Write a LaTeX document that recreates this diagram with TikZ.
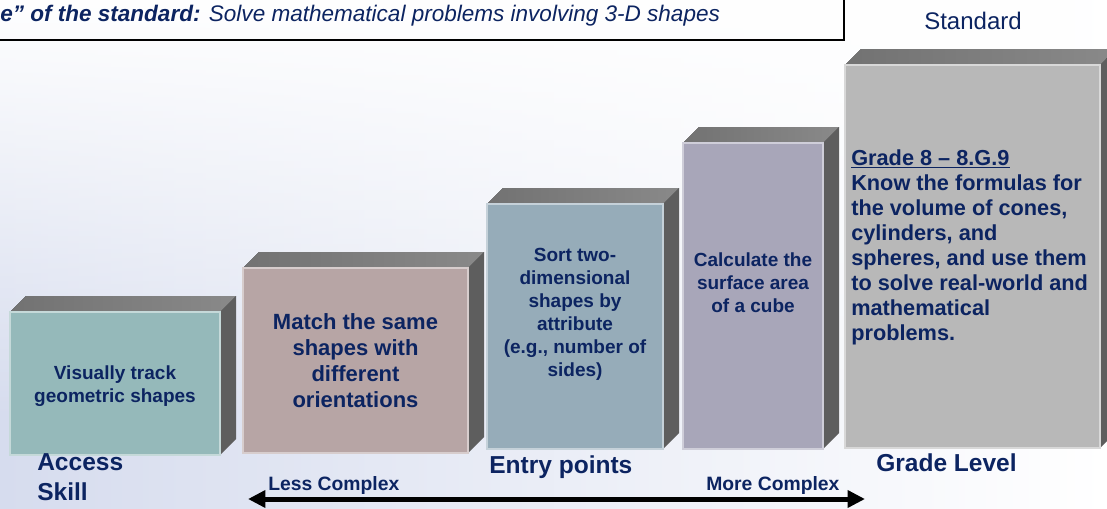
\documentclass[tikz,border=0pt]{standalone}
\usepackage{fontspec}
\setmainfont{Liberation Sans}
\usetikzlibrary{arrows.meta,fadings}
\definecolor{navy}{RGB}{12,36,97}
\definecolor{bgblue}{RGB}{214,220,238}
\definecolor{topgray}{RGB}{124,124,124}
\definecolor{sidegray}{RGB}{94,94,94}
\definecolor{cteal}{RGB}{149,185,186}
\definecolor{cmauve}{RGB}{183,165,165}
\definecolor{csteel}{RGB}{150,172,185}
\definecolor{clav}{RGB}{168,166,185}
\definecolor{cgray}{RGB}{184,184,184}
\newcommand{\blockbox}[5]{%
  \fill[topface] (#1,#2) -- (#1+16,#2-16) -- (#3+16,#2-16) -- (#3,#2) -- cycle;
  \fill[sideface] (#3,#2) -- (#3+16,#2-16) -- (#3+16,#4-16) -- (#3,#4) -- cycle;
  \filldraw[fill=#5, draw=#5!55!white, line width=0.8pt] (#1,#2) rectangle (#3,#4);
}
\begin{document}
\begin{tikzpicture}[x=0.75pt,y=-0.75pt,
  topface/.style={left color=topgray!92!black, right color=topgray!90!white},
  sideface/.style={fill=sidegray},
  boxtext/.style={text=navy, font=\bfseries\fontsize{14.25}{17.25}\selectfont, align=center, inner sep=0pt},
  biglabel/.style={text=navy, font=\bfseries\fontsize{18.4}{22.5}\selectfont, inner sep=0pt},
  cplxlabel/.style={text=navy, font=\bfseries\fontsize{14.5}{17}\selectfont, inner sep=0pt},
  bigarrow/.style={line width=3.75pt, {Triangle[length=13pt,width=12.5pt]}-{Triangle[length=13pt,width=12.5pt]}}
]
\useasboundingbox (0,0) rectangle (1107,508);
\begin{scope}
\clip (0,0) rectangle (1107,508);
\shade[left color=bgblue, right color=white] (0,0) rectangle (1107,508);
\fill[white, path fading=south] (0,-2) rectangle (1107,420);

% title box
\draw[line width=1.1pt] (-10,-10) rectangle (844,40);
\node[anchor=base west, inner sep=0pt, text=navy, font=\itshape\fontsize{16.9}{20}\selectfont] (title) at (0,21) {\textbf{e” of the standard:} Solve mathematical problems involving 3-D shapes};
\node[anchor=base, inner sep=0pt, text=navy, font=\fontsize{18}{22}\selectfont] (standard) at (973,29) {Standard};

% blocks
\blockbox{10}{312}{220}{455}{cteal}
\blockbox{243}{268}{468}{453}{cmauve}
\blockbox{487}{204}{663}{449}{csteel}
\blockbox{683}{143}{823}{449}{clav}
\blockbox{845}{65}{1100}{448}{cgray}

% block texts
\node[boxtext] (t1) at (115,386.5) {Visually track\\geometric shapes};
\node[boxtext, font=\bfseries\fontsize{16.5}{19.5}\selectfont] (t2) at (355.5,361) {Match the same\\shapes with\\different\\orientations};
\node[boxtext] (t3) at (575,314.7) {Sort two-\\dimensional\\shapes by\\attribute\\(e.g., number of\\sides)};
\node[boxtext] (t4) at (753,283) {Calculate the\\surface area\\of a cube};
\node[boxtext, align=left, anchor=north west, font=\bfseries\fontsize{16.3}{18.75}\selectfont] (t5) at (851,149.5) {\underline{Grade 8 – 8.G.9}\\Know the formulas for\\the volume of cones,\\cylinders, and\\spheres, and use them\\to solve real-world and\\mathematical\\problems.};

% bottom labels
\node[biglabel, anchor=north west, align=left] (access) at (37,453.5) {Access\\Skill};
\node[biglabel, anchor=base west] (entry) at (489,473) {Entry points};
\node[biglabel, anchor=base west] (grade) at (876,471) {Grade Level};
\node[cplxlabel, anchor=base west] (less) at (268,490) {Less Complex};
\node[cplxlabel, anchor=base west] (more) at (706,490) {More Complex};

% arrow
\coordinate (lefttip) at (248,499);
\coordinate (righttip) at (865,499);
\draw[bigarrow] (lefttip) -- (righttip);
\end{scope}
\end{tikzpicture}
\end{document}
